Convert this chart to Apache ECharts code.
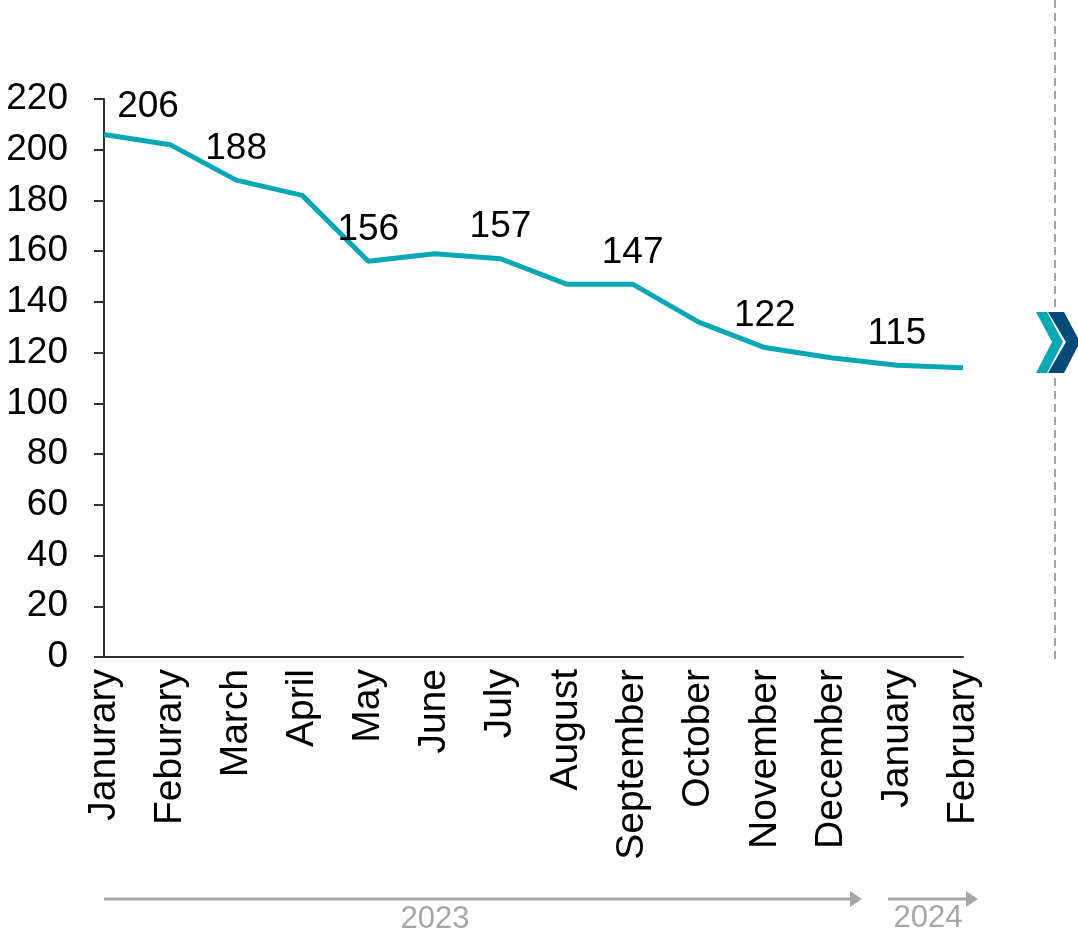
<!DOCTYPE html>
<html>
<head>
<meta charset="utf-8">
<script src="https://cdn.jsdelivr.net/npm/echarts@6/dist/echarts.min.js"></script>
<style>
  html, body { margin: 0; padding: 0; background: #fff; }
  #chart { width: 1078px; height: 937px; }
</style>
</head>
<body>
<div id="chart"></div>
<script>
// Monthly counts, January 2023 to February 2024
const months = ['Janurary', 'Feburary', 'March', 'April', 'May', 'June', 'July',
  'August', 'September', 'October', 'November', 'December', 'January', 'February'];
const values = [206, 202, 188, 182, 156, 159, 157, 147, 147, 132, 122, 118, 115, 114];
// Points whose value is printed above the line
const labeledPoints = [0, 2, 4, 6, 8, 10, 12];
const yTicks = { min: 0, max: 220, interval: 20 };
const years = ['2023', '2024'];

const FONT = '"Liberation Sans", Arial, sans-serif';
const TEAL = '#08a8b2';
const NAVY = '#034a78';
const GREY = '#a6a6a6';

const chart = echarts.init(document.getElementById('chart'), null, { renderer: 'canvas' });

// Year timeline arrows under the axis and the divider with chevrons on the right
function arrow(x1, x2, y) {
  return [
    { type: 'line', shape: { x1: x1, y1: y, x2: x2 - 8, y2: y },
      style: { stroke: GREY, lineWidth: 3 } },
    { type: 'polygon', shape: { points: [[x2 - 12, y - 8], [x2, y], [x2 - 12, y + 8]] },
      style: { fill: GREY } }
  ];
}

const graphics = [].concat(
  arrow(104, 862, 899),
  arrow(888, 978, 899),
  [
    { type: 'text', x: 435, y: 919, style: { text: years[0], fill: GREY,
        font: '31px "Liberation Sans", sans-serif',
        align: 'center', verticalAlign: 'middle' } },
    { type: 'text', x: 928, y: 918, style: { text: years[1], fill: GREY,
        font: '31px "Liberation Sans", sans-serif',
        align: 'center', verticalAlign: 'middle' } },
    { type: 'line', shape: { x1: 1055, y1: 0, x2: 1055, y2: 308 },
      style: { stroke: '#999999', lineWidth: 1.8, lineDash: [8, 5] } },
    { type: 'line', shape: { x1: 1055, y1: 378, x2: 1055, y2: 660 },
      style: { stroke: '#999999', lineWidth: 1.8, lineDash: [8, 5] } },
    { type: 'polygon', shape: { points: [[1036, 312], [1047, 312], [1063, 342], [1047, 373], [1036, 373], [1052, 342]] },
      style: { fill: TEAL } },
    { type: 'polygon', shape: { points: [[1048, 312], [1064, 312], [1080, 342], [1064, 373], [1048, 373], [1066, 342]] },
      style: { fill: NAVY } }
  ]
);

chart.setOption({
  animation: false,
  grid: { left: 104, right: 115, top: 99, bottom: 280, containLabel: false },
  xAxis: {
    type: 'category',
    data: months,
    boundaryGap: false,
    axisLine: { show: true, lineStyle: { color: '#303030', width: 2 } },
    axisTick: { show: false },
    axisLabel: { interval: 0, rotate: 90, margin: 12, color: '#000',
      fontFamily: FONT, fontSize: 39 },
    splitLine: { show: false }
  },
  yAxis: {
    type: 'value',
    min: yTicks.min, max: yTicks.max, interval: yTicks.interval,
    axisLine: { show: true, lineStyle: { color: '#303030', width: 2 } },
    axisTick: { show: true, length: 10, lineStyle: { color: '#303030', width: 2 } },
    axisLabel: { margin: 36, color: '#000', fontFamily: FONT, fontSize: 37 },
    splitLine: { show: false }
  },
  series: [{
    type: 'line',
    data: values,
    symbol: 'circle',
    symbolSize: 2,
    showAllSymbol: true,
    itemStyle: { color: 'rgba(0,0,0,0)', borderWidth: 0 },
    lineStyle: { color: TEAL, width: 5 },
    // the first label is nudged right so it clears the value axis
    labelLayout: p => (p.dataIndex === 0 ? { dx: 44, dy: 4, hideOverlap: false } : { hideOverlap: false }),
    label: { show: true, position: 'top', distance: 12, color: '#000',
      fontFamily: FONT, fontSize: 37,
      formatter: p => labeledPoints.includes(p.dataIndex) ? String(p.value) : '' }
  }],
  graphic: graphics
});
</script>
</body>
</html>
